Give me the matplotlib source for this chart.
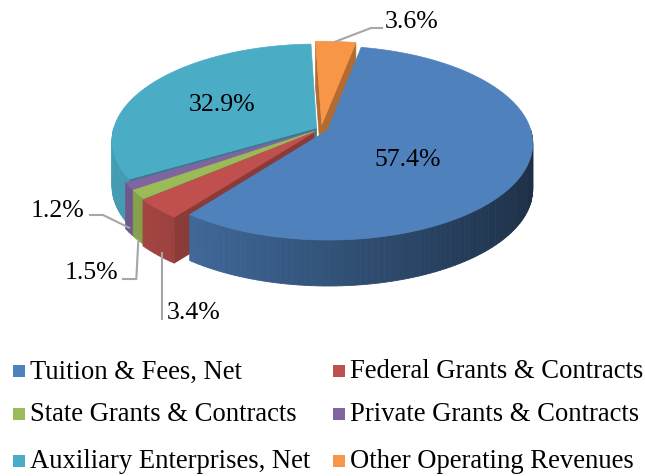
import numpy as np
import matplotlib
matplotlib.use("Agg")
import matplotlib.pyplot as plt
from matplotlib.patches import Polygon, Rectangle
from matplotlib.colors import to_rgb

# ---- data ----
categories = ["Tuition & Fees, Net", "Federal Grants & Contracts",
              "State Grants & Contracts", "Private Grants & Contracts",
              "Auxiliary Enterprises, Net", "Other Operating Revenues"]
values = [57.4, 3.4, 1.5, 1.2, 32.9, 3.6]
labels = ["57.4%", "3.4%", "1.5%", "1.2%", "32.9%", "3.6%"]
colors = ["#4F81BD", "#C0504D", "#9BBB59", "#8064A2", "#4BACC6", "#F79646"]
explode = [0.035, 0.05, 0.04, 0.04, 0.025, 0.05]

# ---- layout ----
W, H = 645, 477
CX, CY = 321, 130
RX, RY = 203, 95
PERSP = 0.13
DEPTH = 46
START = 11.0  # degrees clockwise from 12 o'clock
FONT = "Liberation Serif"

fig = plt.figure(figsize=(W / 100, H / 100), dpi=100)
ax = fig.add_axes([0, 0, 1, 1])
ax.set_xlim(0, W)
ax.set_ylim(H, 0)
ax.axis("off")

total = sum(values)
spans = [v / total * 360 for v in values]
starts = np.concatenate([[START], START + np.cumsum(spans)[:-1]])


def shade(c, f):
    r, g, b = to_rgb(c)
    return (min(r * f, 1), min(g * f, 1), min(b * f, 1))


def pt(phi, off, z=0.0, frac=1.0):
    a = np.radians(phi)
    u = frac * np.sin(a) + off[0]
    v = frac * np.cos(a) + off[1]
    s = 1.0 / (1.0 + PERSP * v)
    return (CX + RX * u * s, CY - RY * v * s + z)


offsets = [(e * np.sin(np.radians(s + sp / 2)), e * np.cos(np.radians(s + sp / 2)))
           for s, sp, e in zip(starts, spans, explode)]

# split into convex pieces
pieces = []
for i, (s, sp) in enumerate(zip(starts, spans)):
    if sp > 180:
        pieces.append((i, s, s + sp / 2, True, False))
        pieces.append((i, s + sp / 2, s + sp, False, True))
    else:
        pieces.append((i, s, s + sp, True, True))

pieces.sort(key=lambda p: -np.cos(np.radians((p[1] + p[2]) / 2)))

for (i, a0, a1, real0, real1) in pieces:
    off = offsets[i]
    col = colors[i]
    # radial walls
    for ang, real, vis in ((a0, real0, np.sin(np.radians(a0)) < 0),
                           (a1, real1, np.sin(np.radians(a1)) > 0)):
        if real and vis:
            c0 = pt(0, off, 0, 0)
            c1 = pt(0, off, DEPTH, 0)
            r0 = pt(ang, off, 0)
            r1 = pt(ang, off, DEPTH)
            wc = shade(col, 0.72)
            ax.add_patch(Polygon([c0, r0, r1, c1], closed=True,
                                 facecolor=wc, edgecolor=wc, lw=0.5))
    # outer wall (front half)
    for base in (0, 360):
        lo = max(a0, 90 + base)
        hi = min(a1, 270 + base)
        if hi > lo:
            n = max(2, int((hi - lo) / 1.5))
            grid = np.linspace(lo, hi, n + 1)
            for g0, g1 in zip(grid[:-1], grid[1:]):
                gm = np.radians((g0 + g1) / 2)
                f = 0.64 - 0.28 * np.sin(gm)
                poly = [pt(g0, off, 0), pt(g1, off, 0),
                        pt(g1, off, DEPTH), pt(g0, off, DEPTH)]
                ax.add_patch(Polygon(poly, closed=True,
                                     facecolor=shade(col, f),
                                     edgecolor=shade(col, f), lw=0.6))
    # top face
    arc = np.linspace(a0, a1, max(3, int((a1 - a0) / 1.0)) + 1)
    poly = [pt(0, off, 0, 0)] + [pt(a, off, 0) for a in arc]
    ax.add_patch(Polygon(poly, closed=True, facecolor=col,
                         edgecolor=col, lw=0.5))

LBL = 18.5
# inside labels: (slice index, radius fraction, vertical nudge px)
for i, fr, dy in ((0, 0.42, 12), (4, 0.55, 0)):
    m = starts[i] + spans[i] / 2
    x, y = pt(m, offsets[i], 0, fr)
    ax.text(x, y + dy, labels[i], ha="center", va="center",
            fontsize=LBL, family=FONT, color="black")

# outside labels with leader lines
lead = "#A6A6A6"
# Other (3.6%)
i = 5
m = starts[i] + spans[i] / 2
x0, y0 = pt(m, offsets[i], 0)
ax.plot([x0, 371, 382], [y0, 29, 29], color=lead, lw=1.5)
ax.text(385, 22, labels[i], ha="left", va="center", fontsize=LBL, family=FONT)
# Private (1.2%)
i = 3
m = starts[i] + spans[i] / 2
x0, y0 = pt(m, offsets[i], DEPTH * 0.9)
ax.plot([x0, 103, 90], [y0, 216, 216], color=lead, lw=1.5)
ax.text(84, 211, labels[i], ha="right", va="center", fontsize=LBL, family=FONT)
# State (1.5%)
i = 2
m = starts[i] + spans[i] / 2
x0, y0 = pt(m, offsets[i], DEPTH)
ax.plot([x0, x0 - 2, 123], [y0, 280, 280], color=lead, lw=1.5)
ax.text(118, 273, labels[i], ha="right", va="center", fontsize=LBL, family=FONT)
# Federal (3.4%)
i = 1
m = starts[i] + spans[i] / 2
x0, y0 = pt(m, offsets[i], DEPTH)
ax.plot([x0 + 5, x0 + 5], [y0 - 2, 320], color=lead, lw=1.5)
ax.text(x0 + 9, 313, labels[i], ha="left", va="center", fontsize=LBL, family=FONT)

# legend (row-wise, 2 columns)
col_x = [13, 333]
row_y = [372, 415, 462]
for k, (cat, c) in enumerate(zip(categories, colors)):
    r, cidx = divmod(k, 2)
    x = col_x[cidx]
    y = row_y[r]
    ax.add_patch(Rectangle((x, y - 6), 12, 12, facecolor=c, edgecolor="none"))
    ax.text(x + 17, y, cat, ha="left", va="center", fontsize=19.2, family=FONT)

fig.savefig("out.png", dpi=100)
